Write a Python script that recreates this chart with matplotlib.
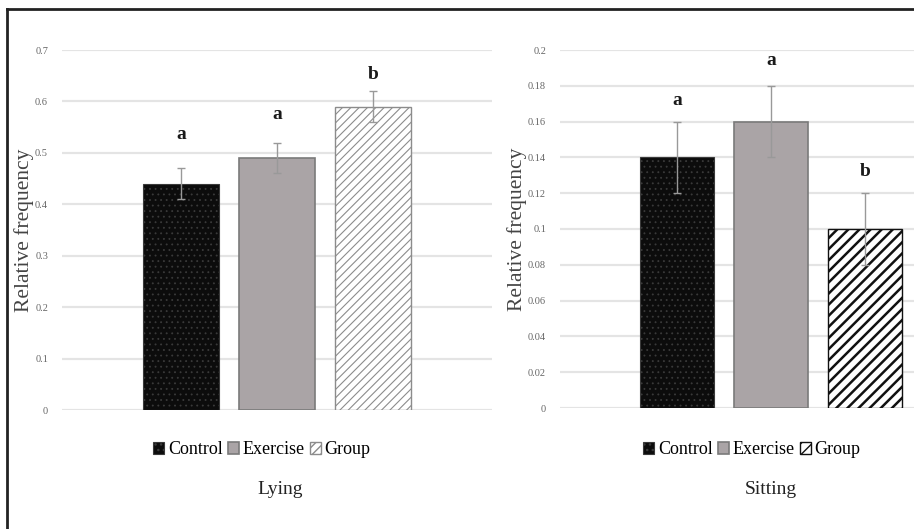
"""Relative frequency of lying and sitting by treatment, two bar panels."""

import matplotlib.pyplot as plt
from matplotlib.lines import Line2D

plt.rcParams["font.family"] = ["Liberation Serif", "DejaVu Serif"]

groups = ["Control", "Exercise", "Group"]

lying_mean = [0.44, 0.49, 0.59]
lying_err = [0.03, 0.03, 0.03]
lying_letters = ["a", "a", "b"]
lying_letter_y = [0.535, 0.574, 0.652]
lying_ticks = [0, 0.1, 0.2, 0.3, 0.4, 0.5, 0.6, 0.7]
lying_ticklabels = ["0", "0.1", "0.2", "0.3", "0.4", "0.5", "0.6", "0.7"]

sitting_mean = [0.14, 0.16, 0.10]
sitting_err = [0.02, 0.02, 0.02]
sitting_letters = ["a", "a", "b"]
sitting_letter_y = [0.172, 0.194, 0.132]
sitting_ticks = [0, 0.02, 0.04, 0.06, 0.08, 0.1, 0.12, 0.14, 0.16, 0.18, 0.2]
sitting_ticklabels = ["0", "0.02", "0.04", "0.06", "0.08", "0.1", "0.12",
                      "0.14", "0.16", "0.18", "0.2"]


def draw_panel(fig, rect, xlim, means, errs, letters, letter_y, ticks,
               ticklabels, ymax, group_style, legend_x, title_x, title):
    ax = fig.add_axes(rect)
    x = list(range(len(means)))
    styles = [
        dict(facecolor="#0c0c0c", edgecolor="#3a3a3a", hatch="...", lw=0.8),
        dict(facecolor="#aaa4a6", edgecolor="#7a7a7a", hatch=None, lw=1.2),
        group_style,
    ]
    bars = []
    for xi, m, st, name in zip(x, means, styles, groups):
        with plt.rc_context({"hatch.linewidth": st.pop("hlw", 0.6)}):
            b = ax.bar(xi, m, width=0.79, label=name, zorder=2,
                       facecolor=st["facecolor"], edgecolor=st["edgecolor"],
                       hatch=st["hatch"], linewidth=st["lw"])
        bars.append(b)
    ax.errorbar(x, means, yerr=errs, fmt="none", ecolor="#999999",
                elinewidth=1.0, capsize=3, capthick=1.0, zorder=3)
    for xi, lt, ly in zip(x, letters, letter_y):
        ax.text(xi, ly, lt, ha="center", va="center", fontsize=14,
                fontweight="bold", color="#1a1a1a")

    ax.set_xlim(*xlim)
    ax.set_ylim(0, ymax)
    ax.set_yticks(ticks)
    ax.set_yticklabels(ticklabels)
    ax.set_xticks([])
    ax.tick_params(axis="y", length=0, pad=10, labelsize=7.5, labelcolor="#666666")
    ax.grid(axis="y", color="#e4e4e4", linewidth=1.6, zorder=0)
    ax.set_axisbelow(True)
    for s in ax.spines.values():
        s.set_visible(False)
    ax.set_ylabel("Relative frequency", fontsize=15.5, color="#444444", labelpad=1)

    fig.legend(handles=[b[0] for b in bars], labels=groups,
               loc="center", bbox_to_anchor=(legend_x, 1 - 450 / 529),
               ncol=3, frameon=False, fontsize=13, handlelength=0.6,
               handleheight=0.6, handletextpad=0.2, columnspacing=0.3,
               borderaxespad=0)
    fig.text(title_x, 1 - 490 / 529, title, ha="center", va="center",
             fontsize=14, color="#222222")
    return ax


fig = plt.figure(figsize=(9.14, 5.29), dpi=100)

draw_panel(fig, [62 / 914, 1 - 410 / 529, 430 / 914, 360 / 529],
           (-1.24, 3.24), lying_mean, lying_err, lying_letters, lying_letter_y,
           lying_ticks, lying_ticklabels, 0.7,
           dict(facecolor="white", edgecolor="#8c8c8c", hatch="////", lw=1.0,
                hlw=0.8),
           262 / 914, 280 / 914, "Lying")

draw_panel(fig, [560 / 914, 1 - 408 / 529, 354 / 914, 358 / 529],
           (-1.245, 2.52), sitting_mean, sitting_err, sitting_letters,
           sitting_letter_y, sitting_ticks, sitting_ticklabels, 0.2,
           dict(facecolor="white", edgecolor="#111111", hatch="///", lw=1.0,
                hlw=1.8),
           752 / 914, 771 / 914, "Sitting")

# outer frame, only top and left edges remain in the cropped original
fig.add_artist(Line2D([6.5 / 914, 6.5 / 914], [0, 1 - 9 / 529],
                      color="#222222", linewidth=2))
fig.add_artist(Line2D([6.5 / 914, 1], [1 - 9 / 529, 1 - 9 / 529],
                      color="#222222", linewidth=2))

fig.savefig("out.png", dpi=100)
